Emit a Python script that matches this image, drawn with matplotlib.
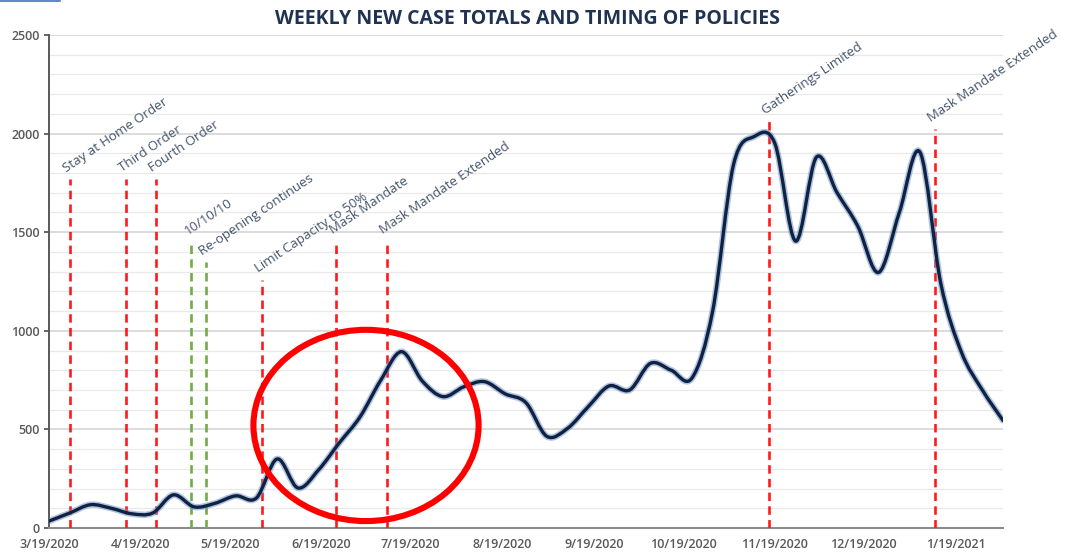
import matplotlib
matplotlib.use("Agg")
import matplotlib.dates as mdates
import matplotlib.pyplot as plt
import numpy as np
import pandas as pd
from matplotlib.lines import Line2D
from matplotlib.patches import Ellipse, PathPatch
from matplotlib.path import Path

# weekly new cases
WEEKS = pd.date_range("2020-03-19", periods=47, freq="7D")
CASES = [35, 76, 118, 100, 72, 76, 168, 107, 125, 163, 152, 350, 203, 295,
         432, 564, 750, 894, 745, 666, 716, 742, 680, 635, 465, 505, 615,
         720, 700, 835, 800, 760, 1100, 1840, 1985, 1950, 1455, 1880, 1700,
         1530, 1296, 1600, 1905, 1240, 890, 700, 545]

POLICY_NAMES = ["Stay at Home Order", "Third Order", "Fourth Order", "10/10/10",
                "Re-opening continues", "Limit Capacity to 50%", "Mask Mandate",
                "Mask Mandate Extended", "Gatherings Limited",
                "Mask Mandate Extended"]
POLICY_DATES = ["2020-03-26", "2020-04-14", "2020-04-24", "2020-05-06",
                "2020-05-11", "2020-05-30", "2020-06-24", "2020-07-11",
                "2020-11-17", "2021-01-12"]
POLICY_TOPS = [1770, 1770, 1770, 1450, 1350, 1260, 1455, 1455, 2065, 2025]
POLICY_COLORS = ["#ff1a1a"] * 3 + ["#70ad47"] * 2 + ["#ff1a1a"] * 5

TICK_DATES = ["2020-03-19", "2020-04-19", "2020-05-19", "2020-06-19",
              "2020-07-19", "2020-08-19", "2020-09-19", "2020-10-19",
              "2020-11-19", "2020-12-19", "2021-01-19"]
TICK_LABELS = ["3/19/2020", "4/19/2020", "5/19/2020", "6/19/2020", "7/19/2020",
               "8/19/2020", "9/19/2020", "10/19/2020", "11/19/2020",
               "12/19/2020", "1/19/2021"]

CIRCLE_CENTER = ("2020-07-04", 520)
CIRCLE_DAYS = 76
CIRCLE_CASES = 970

TITLE = "WEEKLY NEW CASE TOTALS AND TIMING OF POLICIES"


def smooth_path(x, y):
    # excel-style smoothed line: cubic bezier through every point
    pts = np.column_stack([x, y]).astype(float)
    padded = np.vstack([pts[0], pts, pts[-1]])
    verts = [pts[0]]
    codes = [Path.MOVETO]
    for i in range(len(pts) - 1):
        p0, p1, p2, p3 = padded[i:i + 4]
        verts += [p1 + (p2 - p0) / 6, p2 - (p3 - p1) / 6, p2]
        codes += [Path.CURVE4] * 3
    return Path(verts, codes)


plt.rcParams["font.family"] = ["Open Sans", "DejaVu Sans"]

fig = plt.figure(figsize=(10.7, 5.52), dpi=100)
ax = fig.add_axes([0.0458, 0.0435, 0.8916, 0.8931])

x = mdates.date2num(WEEKS.to_pydatetime())
path = smooth_path(x, CASES)
ax.add_patch(PathPatch(path, fill=False, edgecolor="#6f93d0", lw=4.6,
                       alpha=0.55, capstyle="round", zorder=4))
ax.add_patch(PathPatch(path, fill=False, edgecolor="#0f2240", lw=2.4,
                       capstyle="round", zorder=5))

for name, d, top, c in zip(POLICY_NAMES, POLICY_DATES, POLICY_TOPS, POLICY_COLORS):
    dn = mdates.date2num(pd.Timestamp(d))
    ax.vlines(dn, 0, top, colors=c, lw=1.9, linestyles=(0, (3.2, 2.0)), zorder=3)
    ax.annotate(name, xy=(dn, top), xytext=(-1.5, 3), textcoords="offset points",
                rotation=34, rotation_mode="anchor", ha="left", va="bottom",
                fontsize=9.5, color="#44546a")

cx = mdates.date2num(pd.Timestamp(CIRCLE_CENTER[0]))
ax.add_patch(Ellipse((cx, CIRCLE_CENTER[1]), CIRCLE_DAYS, CIRCLE_CASES,
                     fill=False, edgecolor="#ff0000", lw=4.4, zorder=6))

ax.set_xlim(x[0], x[-1])
ax.set_ylim(0, 2500)

ax.set_yticks(np.arange(0, 2501, 500))
ax.set_yticks(np.arange(0, 2501, 100), minor=True)
ax.grid(which="minor", axis="y", color="#e9e9e9", lw=0.9)
ax.grid(which="major", axis="y", color="#d2d2d2", lw=1.1)
ax.set_axisbelow(True)

ax.set_xticks(mdates.date2num(pd.to_datetime(TICK_DATES).to_pydatetime()))
ax.set_xticklabels(TICK_LABELS)
ax.tick_params(axis="x", length=0, pad=7, labelsize=9, labelcolor="#595959")
ax.tick_params(axis="y", which="major", length=3.5, width=1.3, color="#595959",
               pad=3, labelsize=9, labelcolor="#595959")
ax.tick_params(axis="y", which="minor", length=0)
for lab in ax.get_xticklabels() + ax.get_yticklabels():
    lab.set_fontweight("semibold")

for side in ["top", "right"]:
    ax.spines[side].set_visible(False)
ax.spines["left"].set_color("#595959")
ax.spines["left"].set_linewidth(1.4)
ax.spines["bottom"].set_color("#8c8c8c")
ax.spines["bottom"].set_linewidth(1.5)

fig.text(0.493, 0.966, TITLE, ha="center", va="center", fontsize=14,
         fontweight="bold", color="#1f3251")
fig.add_artist(Line2D([0, 0.056], [0.998, 0.998], transform=fig.transFigure,
                      color="#4472c4", lw=1.2))

fig.savefig("out.png", dpi=100)
